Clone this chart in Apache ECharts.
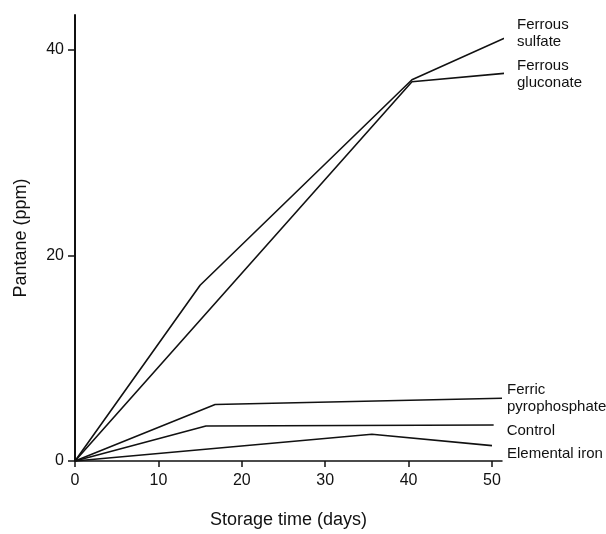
<!DOCTYPE html>
<html>
<head>
<meta charset="utf-8">
<script src="https://cdn.jsdelivr.net/npm/echarts@6/dist/echarts.min.js"></script>
<style>html,body{margin:0;padding:0;background:#fff}#c{width:606px;height:534px}</style>
</head>
<body>
<div id="c"></div>
<script>
const xTicks = [0, 10, 20, 30, 40, 50];
const yTicks = [0, 20, 40];
const seriesNames = ['Ferrous\nsulfate', 'Ferrous\ngluconate', 'Ferric\npyrophosphate', 'Control', 'Elemental iron'];
const ferrousSulfate = [[0, 0], [15.0, 17.1], [40.4, 37.1], [52.2, 41.4]];
const ferrousGluconate = [[0, 0], [40.4, 36.9], [52.6, 37.8]];
const ferricPyrophosphate = [[0, 0], [16.8, 5.5], [51.2, 6.1]];
const control = [[0, 0], [15.7, 3.4], [50.2, 3.5]];
const elementalIron = [[0, 0], [35.6, 2.6], [50.0, 1.5]];

const allData = [ferrousSulfate, ferrousGluconate, ferricPyrophosphate, control, elementalIron];
const labelOffsets = [[7, -5], [7, 1], [-1, 0], [7, 6], [9, 8]];

const FONT = 'Liberation Sans';
const chart = echarts.init(document.getElementById('c'));
chart.setOption({
  animation: false,
  backgroundColor: '#fff',
  grid: { left: 75, right: 104, top: 15, bottom: 67, containLabel: false },
  xAxis: {
    type: 'value', min: 0, max: 51.2, interval: 10,
    name: 'Storage time (days)', nameLocation: 'middle', nameGap: 50,
    nameTextStyle: { fontFamily: FONT, fontSize: 18, color: '#111' },
    axisLine: { show: true, lineStyle: { color: '#111', width: 1.5 } },
    axisTick: { show: true, length: 6, lineStyle: { color: '#111', width: 1.5 }, customValues: xTicks },
    axisLabel: { fontFamily: FONT, fontSize: 16, color: '#111', margin: 12, customValues: xTicks },
    splitLine: { show: false }
  },
  yAxis: {
    type: 'value', min: 0, max: 43.4, interval: 20,
    name: 'Pantane (ppm)', nameLocation: 'middle', nameGap: 45, nameRotate: 90,
    nameTextStyle: { fontFamily: FONT, fontSize: 18, color: '#111' },
    axisLine: { show: true, lineStyle: { color: '#111', width: 2 } },
    axisTick: { show: true, length: 7, lineStyle: { color: '#111', width: 1.5 }, customValues: yTicks },
    axisLabel: { fontFamily: FONT, fontSize: 16, color: '#111', margin: 11, customValues: yTicks },
    splitLine: { show: false }
  },
  series: allData.map((d, i) => ({
    type: 'line',
    name: seriesNames[i],
    data: d,
    clip: false,
    showSymbol: false,
    symbol: 'none',
    lineStyle: { color: '#111', width: 1.6 },
    endLabel: {
      show: true,
      formatter: seriesNames[i],
      fontFamily: FONT, fontSize: 15, color: '#111',
      lineHeight: 17, align: 'left', verticalAlign: 'middle',
      distance: 6,
      offset: labelOffsets[i]
    }
  }))
});
</script>
</body>
</html>
